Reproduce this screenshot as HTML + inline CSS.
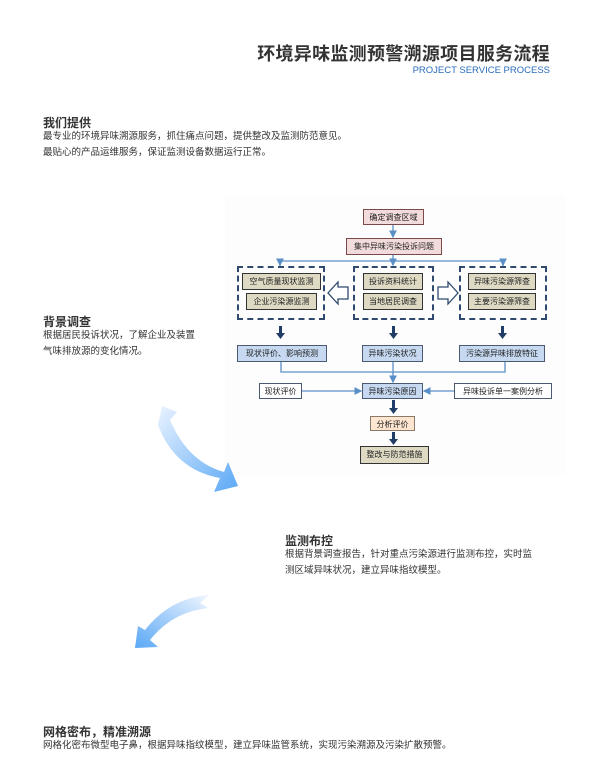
<!DOCTYPE html>
<html><head><meta charset="utf-8"><style>
*{margin:0;padding:0;box-sizing:border-box}
body{width:607px;height:768px;background:#fff;position:relative;overflow:hidden;font-family:"Liberation Sans","Noto Sans CJK SC",sans-serif;color:#333}
.a{position:absolute;white-space:nowrap}
h1{position:absolute;right:57px;top:40px;font-size:18px;font-weight:bold;color:#333;letter-spacing:0.3px}
.sub{right:57px;top:65px;font-size:9.5px;color:#2a6ebb}
.h{font-size:12px;font-weight:bold;color:#333}
.t{font-size:9.5px;color:#333;line-height:16px}
.b{position:absolute;font-size:8px;color:#222;text-align:center;line-height:15px;border:1px solid #555;white-space:nowrap}
.pink{background:#f2dcdb;border-color:#7a4a4a}
.kh{background:#ddd9c3;border:1.5px solid #333}
.bl{background:#c6d9f1;border:1.5px solid #4a5a70}
.wh{background:#fff;border:1.5px solid #4a5a70}
.pe{background:#fde5cf;border:1px solid #8a7a6a}
.dash{position:absolute;border:2px dashed #2f4a6e}
</style></head><body>
<h1>环境异味监测预警溯源项目服务流程</h1>
<div class="a sub">PROJECT SERVICE PROCESS</div>

<div class="a h" style="left:43px;top:114px">我们提供</div>
<div class="a t" style="left:43px;top:129px">最专业的环境异味溯源服务，抓住痛点问题，提供整改及监测防范意见。<br>最贴心的产品运维服务，保证监测设备数据运行正常。</div>

<div class="a h" style="left:43px;top:313px">背景调查</div>
<div class="a t" style="left:43px;top:328px">根据居民投诉状况，了解企业及装置<br>气味排放源的变化情况。</div>

<div class="a h" style="left:285px;top:532px">监测布控</div>
<div class="a t" style="left:285px;top:547px">根据背景调查报告，针对重点污染源进行监测布控，实时监<br>测区域异味状况，建立异味指纹模型。</div>

<div class="a h" style="left:43px;top:723px">网格密布，精准溯源</div>
<div class="a t" style="left:43px;top:738px">网格化密布微型电子鼻，根据异味指纹模型，建立异味监管系统，实现污染溯源及污染扩散预警。</div>

<svg width="607" height="768" style="position:absolute;left:0;top:0">
<defs>
<linearGradient id="g1" x1="0" y1="0" x2="1" y2="1"><stop offset="0" stop-color="#eaf3ff"/><stop offset="1" stop-color="#5aa8f5"/></linearGradient>
<linearGradient id="g2" x1="1" y1="0" x2="0" y2="1"><stop offset="0" stop-color="#f0f6ff"/><stop offset="1" stop-color="#5aa8f5"/></linearGradient>
<marker id="m" markerWidth="6" markerHeight="6" refX="5" refY="3" orient="auto"><path d="M0,0 L6,3 L0,6 Z" fill="#5b8fc8"/></marker>
</defs>
<rect x="225" y="195" width="340" height="280" fill="#fdfdfd"/>
<path d="M162,406 L158,425 Q175,470 220,478 L214,492 L238,486 L228,462 L224,472 Q188,462 170,420 L177,412 Z" fill="url(#g1)"/>
<path d="M209,595 Q170,598 145,630 L138,626 L135,648 L158,647 L150,640 Q172,612 208,608 L200,603 Z" fill="url(#g2)"/>
<g stroke="#5b8fc8" stroke-width="1.3" fill="none">
<line x1="393" y1="224" x2="393" y2="237" marker-end="url(#m)"/>
<line x1="393" y1="255" x2="393" y2="265" marker-end="url(#m)"/>
<polyline points="280,266 280,261 503,261 503,266"/>
<line x1="280" y1="261" x2="280" y2="265" marker-end="url(#m)"/>
<line x1="503" y1="261" x2="503" y2="265" marker-end="url(#m)"/>
<polyline points="281,362 281,372 505,372 505,362"/>
<line x1="393" y1="362" x2="393" y2="382" marker-end="url(#m)"/>
<line x1="302" y1="391" x2="361" y2="391" marker-end="url(#m)"/>
<line x1="454" y1="391" x2="424" y2="391" marker-end="url(#m)"/>
</g>
<g fill="#1f3d66">
<rect x="279" y="326" width="3" height="8"/><path d="M276,333 L285,333 L280.5,339 Z"/>
<rect x="392" y="326" width="3" height="8"/><path d="M389,333 L398,333 L393.5,339 Z"/>
<rect x="501" y="326" width="3" height="8"/><path d="M498,333 L507,333 L502.5,339 Z"/>
<rect x="392" y="400" width="3" height="9"/><path d="M389,408 L398,408 L393.5,414 Z"/>
<rect x="392" y="432" width="3" height="8"/><path d="M389,439 L398,439 L393.5,445 Z"/>
</g>
<path d="M348,287 L338,287 L338,282 L328,293 L338,304 L338,299 L348,299 Z" fill="#fff" stroke="#2f4a6e" stroke-width="1.3"/>
<path d="M438,287 L448,287 L448,282 L458,293 L448,304 L448,299 L438,299 Z" fill="#fff" stroke="#2f4a6e" stroke-width="1.3"/>
</svg>

<div class="b pink" style="left:363px;top:209px;width:61px;height:16px">确定调查区域</div>
<div class="b pink" style="left:346px;top:238px;width:96px;height:17px">集中异味污染投诉问题</div>

<div class="dash" style="left:237px;top:266px;width:88px;height:54px"></div>
<div class="dash" style="left:353px;top:266px;width:81px;height:54px"></div>
<div class="dash" style="left:459px;top:266px;width:88px;height:54px"></div>

<div class="b kh" style="left:242px;top:273px;width:79px;height:17px">空气质量现状监测</div>
<div class="b kh" style="left:246px;top:293px;width:71px;height:17px">企业污染源监测</div>
<div class="b kh" style="left:363px;top:273px;width:60px;height:17px">投诉资料统计</div>
<div class="b kh" style="left:363px;top:293px;width:60px;height:17px">当地居民调查</div>
<div class="b kh" style="left:468px;top:273px;width:68px;height:17px">异味污染源筛查</div>
<div class="b kh" style="left:468px;top:293px;width:68px;height:17px">主要污染源筛查</div>

<div class="b bl" style="left:237px;top:345px;width:90px;height:17px">现状评价、影响预测</div>
<div class="b bl" style="left:362px;top:345px;width:61px;height:17px">异味污染状况</div>
<div class="b bl" style="left:459px;top:345px;width:86px;height:17px">污染源异味排放特征</div>

<div class="b wh" style="left:259px;top:383px;width:43px;height:16px">现状评价</div>
<div class="b bl" style="left:362px;top:383px;width:61px;height:16px">异味污染原因</div>
<div class="b wh" style="left:454px;top:383px;width:98px;height:16px">异味投诉单一案例分析</div>

<div class="b pe" style="left:370px;top:416px;width:45px;height:15px">分析评价</div>
<div class="b kh" style="left:360px;top:446px;width:69px;height:18px">整改与防范措施</div>
</body></html>
